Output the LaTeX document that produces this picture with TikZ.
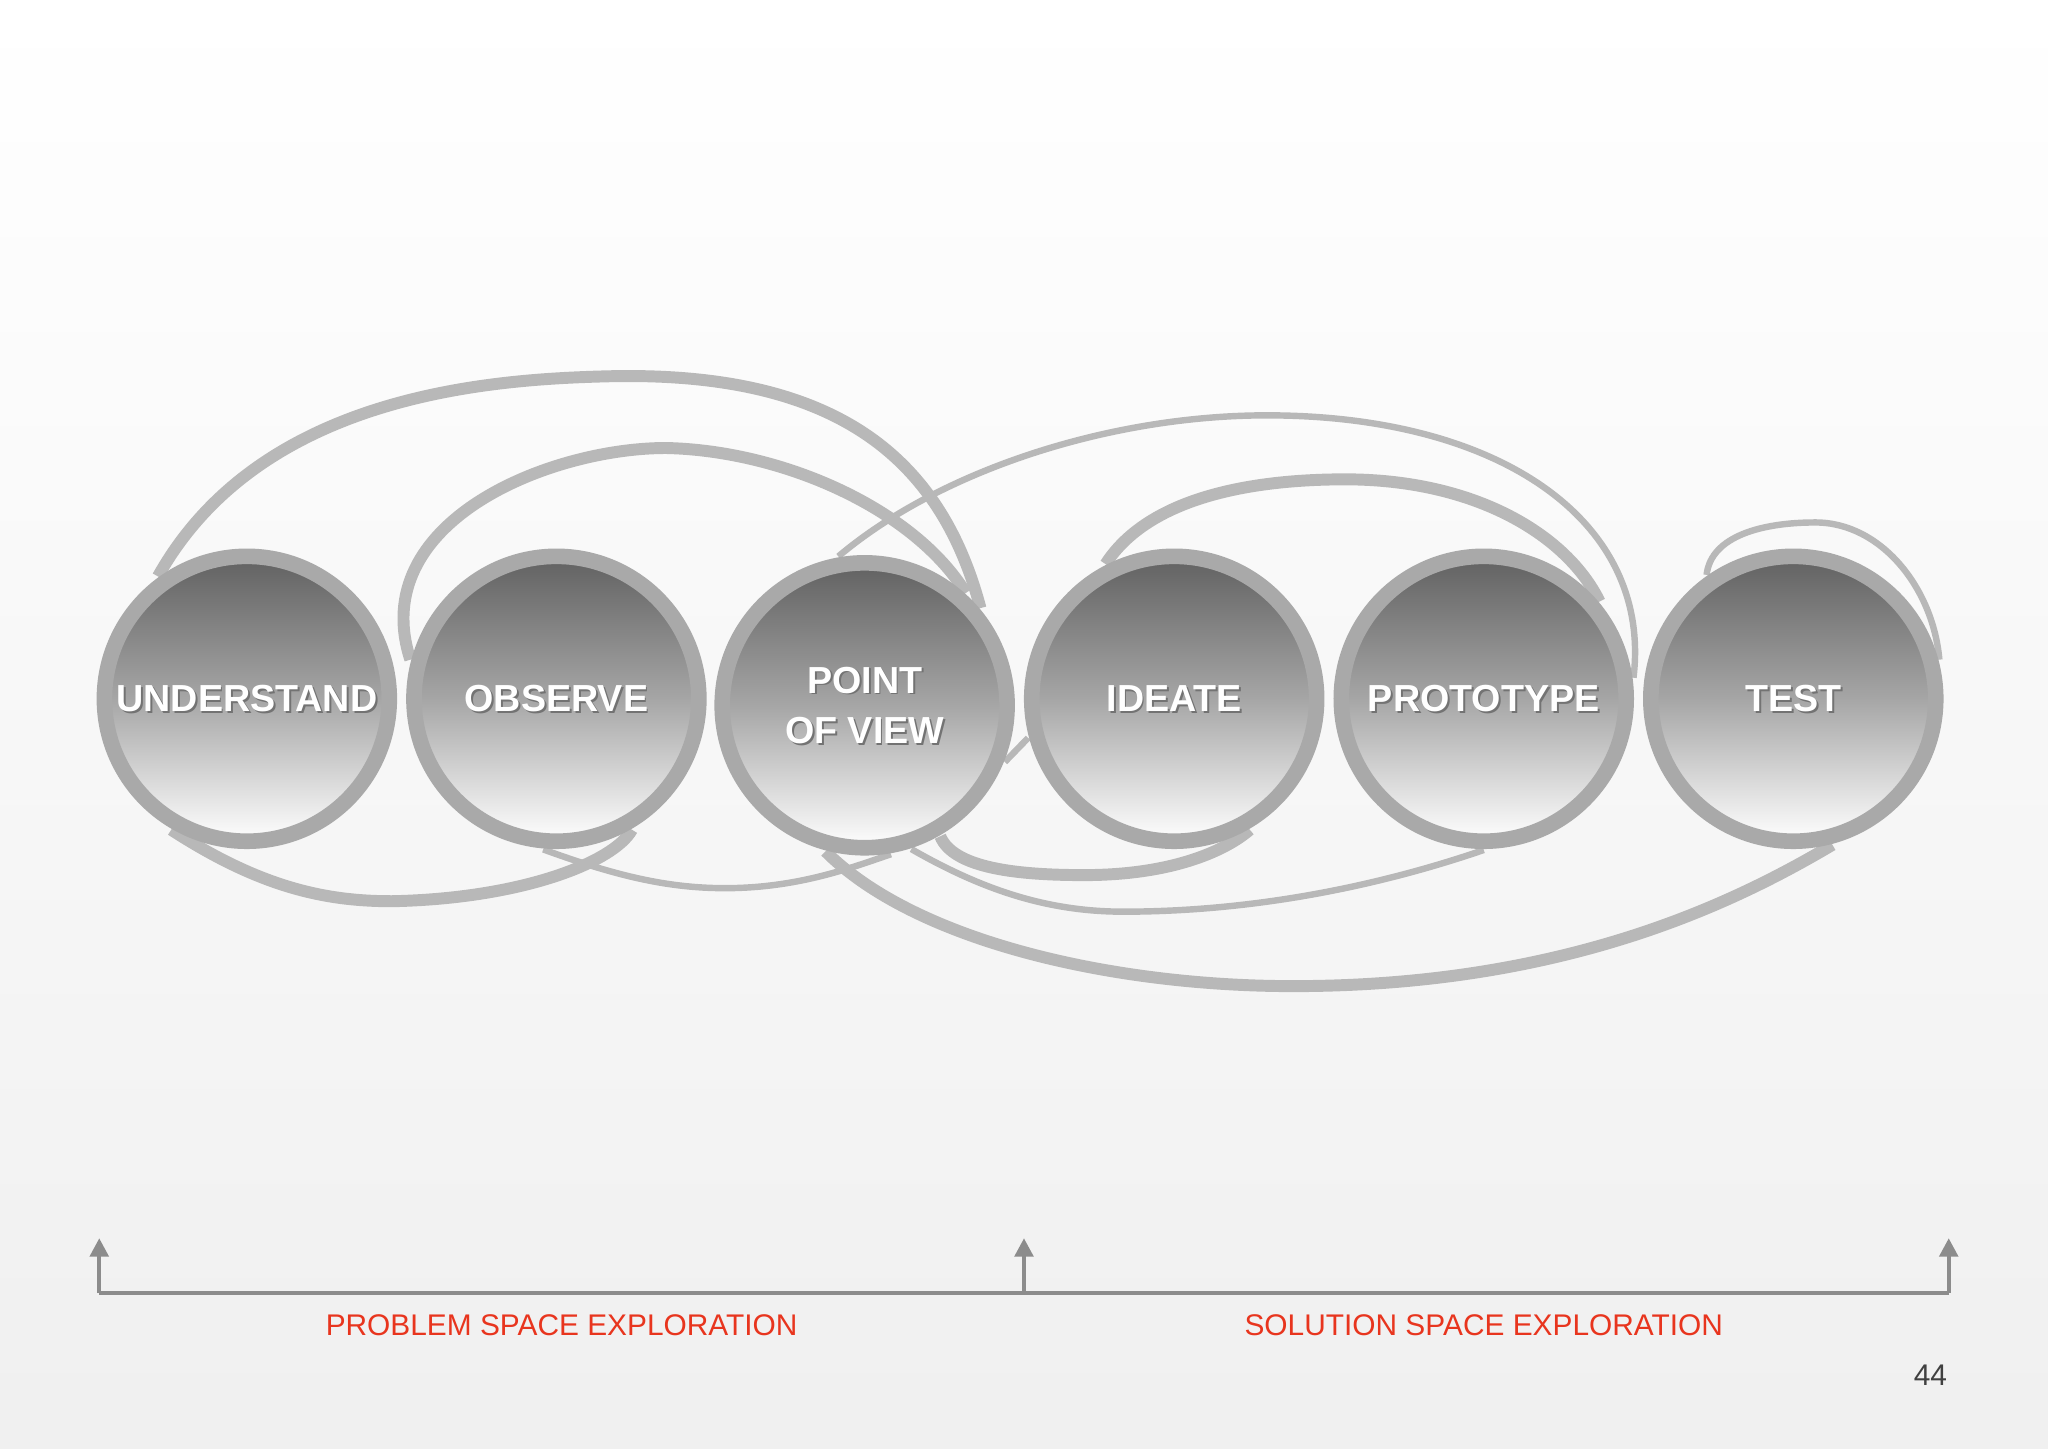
\documentclass[tikz,border=0pt]{standalone}
\usepackage{fontspec}
\setmainfont{Liberation Sans}
\usetikzlibrary{arrows.meta}
\definecolor{ring}{HTML}{A9A9A9}
\definecolor{loop}{HTML}{B8B8B8}
\definecolor{lab}{HTML}{E8351E}
\begin{document}
\begin{tikzpicture}[x=0.01cm,y=-0.01cm]
\tikzset{
 stage/.style={circle,minimum size=2.18cm,inner sep=0pt,draw=ring,line width=3.4pt,top color=black!62,bottom color=white,middle color=black!35},
 thick loop/.style={draw=loop,line width=2.6pt},
 thin loop/.style={draw=loop,line width=1.4pt},
 stxt/.style={text=white,font=\bfseries\fontsize{8.2}{11}\selectfont,align=center},
 shtxt/.style={text=black!55,font=\bfseries\fontsize{8.2}{11}\selectfont,align=center}
}
\shade[top color=white,bottom color=black!6] (0,0) rectangle (1568,1109);
\useasboundingbox (0,0) rectangle (1568,1109);
\coordinate (cu) at (189,535);
\coordinate (co) at (426,535);
\coordinate (cp) at (662,540);
\coordinate (ci) at (899,535);
\coordinate (cr) at (1136,535);
\coordinate (ct) at (1373,535);
\foreach \n/\c in {u/cu,o/co,p/cp,i/ci,r/cr,t/ct}{\node[circle,minimum size=2.3cm,inner sep=0pt] (\n) at (\c) {};}
% loops
\path[thick loop] (u.126) .. controls (200,300) and (380,290) .. (470,288) .. controls (640,285) and (720,350) .. (p.40);
\path[thick loop] (o.165) .. controls (280,400) and (420,343) .. (510,343) .. controls (600,345) and (700,390) .. (p.48);
\path[thin loop] (p.100) .. controls (720,360) and (850,318) .. (970,318) .. controls (1150,318) and (1265,400) .. (r.8);
\path[thick loop] (i.117) .. controls (880,380) and (960,367) .. (1030,367) .. controls (1130,367) and (1200,410) .. (r.40);
\path[thin loop] (t.125) .. controls (1310,410) and (1350,400) .. (1390,400) .. controls (1440,400) and (1480,450) .. (t.15);
\path[thick loop] (u.240) .. controls (200,680) and (250,690) .. (300,690) .. controls (400,688) and (470,660) .. (o.-60);
\path[thin loop] (o.-95) .. controls (470,670) and (510,680) .. (555,680) .. controls (610,680) and (650,665) .. (p.-80);
\path[thick loop] (p.-60) .. controls (730,665) and (780,670) .. (830,670) .. controls (900,670) and (940,650) .. (i.-60);
\path[thin loop] (p.-72) .. controls (750,680) and (800,698) .. (860,698) .. controls (980,698) and (1080,670) .. (r.-90);
\path[thick loop] (p.-105) .. controls (700,720) and (850,755) .. (990,755) .. controls (1200,755) and (1330,690) .. (t.-75);
\path[thin loop] (p.-22) -- (i.195);
% circles
\foreach \c in {cu,co,cp,ci,cr,ct}{\node[stage] at (\c) {};}
\foreach \c/\t in {cu/UNDERSTAND,co/OBSERVE,cp/{POINT\\OF VIEW},ci/IDEATE,cr/PROTOTYPE,ct/TEST}{
 \node[shtxt] at ([shift={(1.5,1.5)}]\c) {\t};
 \node[stxt] at (\c) {\t};}
% axis
\coordinate (a1) at (76,990); \coordinate (a2) at (784,990); \coordinate (a3) at (1492,990);
\draw[black!45,line width=0.9pt] (a1) -- (a3);
\foreach \a in {a1,a2,a3}{\draw[black!45,line width=0.9pt,-{Triangle[length=4pt,width=4pt]}] (\a) -- ++(0,-42);}
\node[text=lab,font=\fontsize{6.5}{8}\selectfont] (l1) at (430,1015) {PROBLEM SPACE EXPLORATION};
\node[text=lab,font=\fontsize{6.5}{8}\selectfont] (l2) at (1136,1015) {SOLUTION SPACE EXPLORATION};
\node[text=black!75,font=\fontsize{6.5}{8}\selectfont] (pg) at (1478,1053) {44};
\end{tikzpicture}
\end{document}
